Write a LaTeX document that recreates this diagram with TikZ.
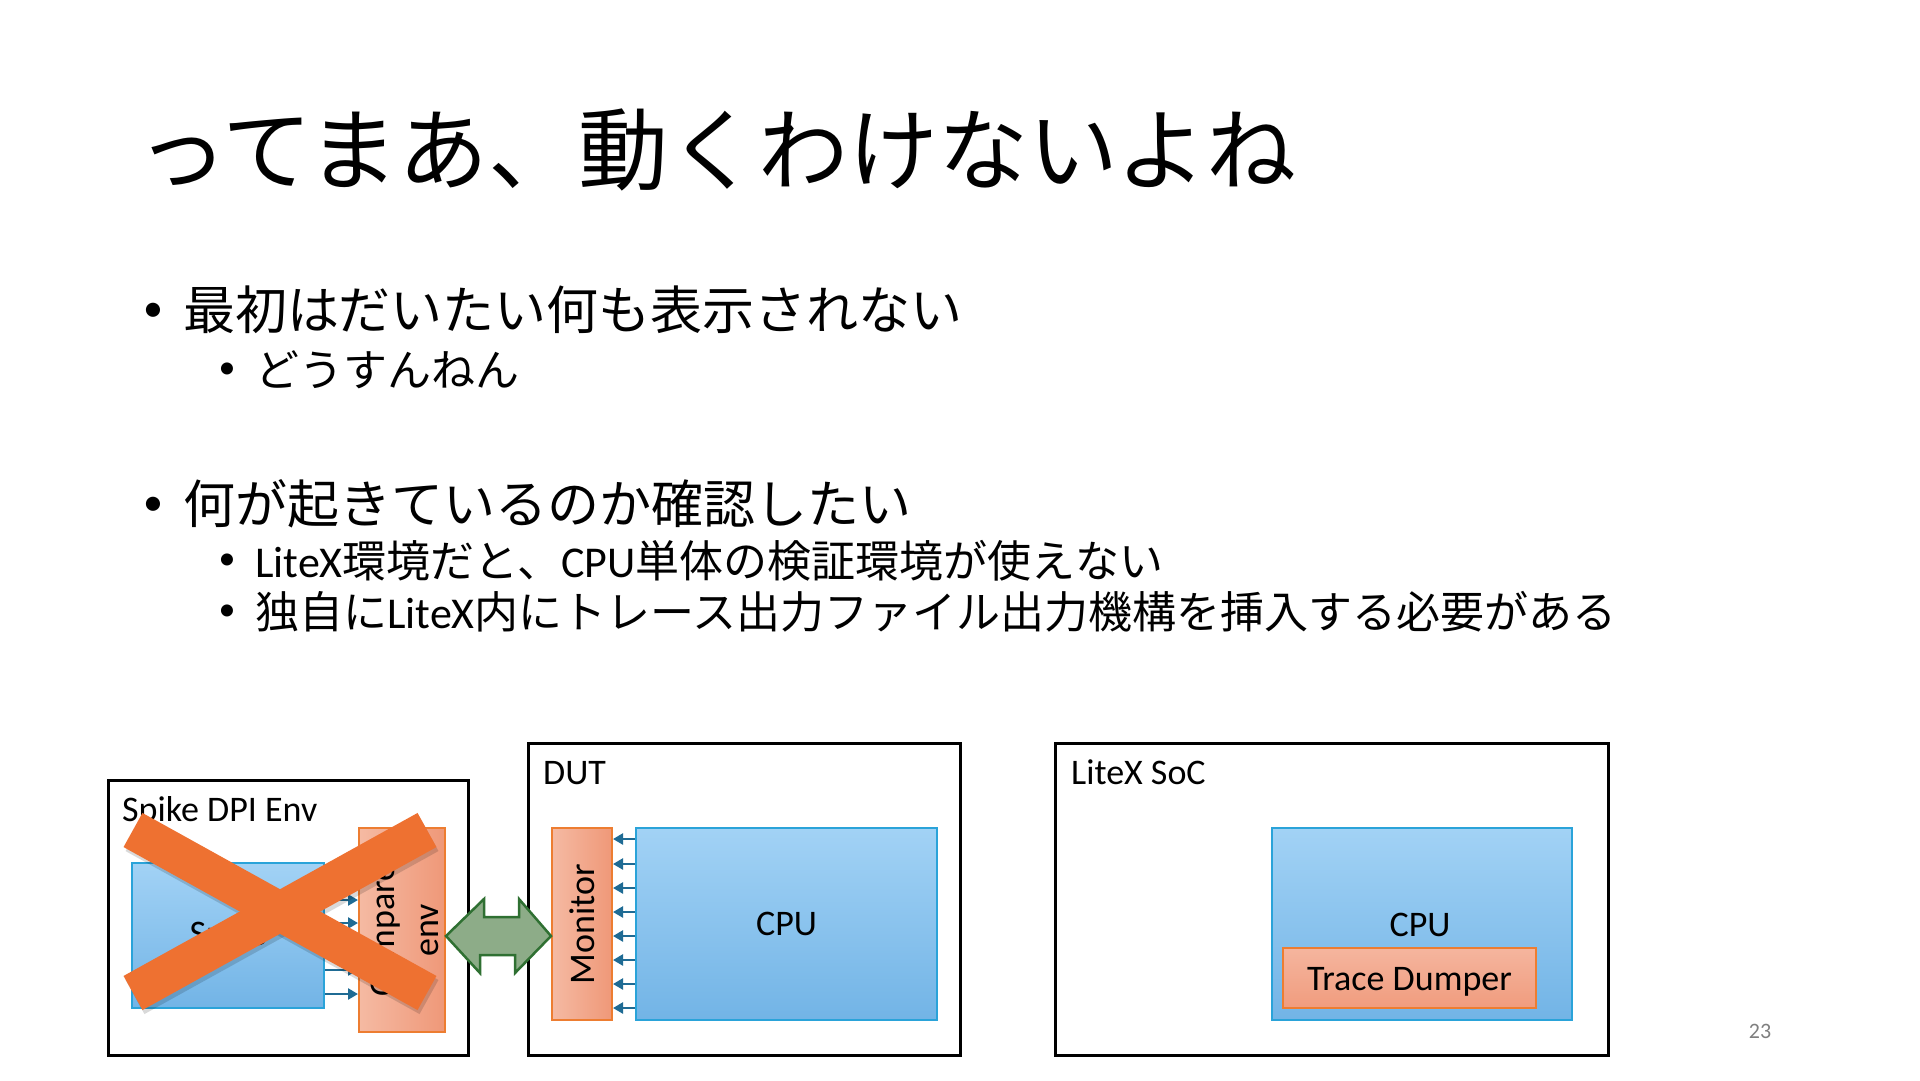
\documentclass[tikz,border=0pt]{standalone}
\usepackage{fontspec}
\setmainfont{Noto Sans CJK JP}
\newfontfamily\lat{Carlito}
\usetikzlibrary{arrows.meta,calc}
\definecolor{boxblue}{HTML}{2AA3D9}
\definecolor{blueT}{HTML}{A2D2F5}
\definecolor{blueB}{HTML}{72B4E6}
\definecolor{orline}{HTML}{ED7D31}
\definecolor{orL}{HTML}{F5BAA3}
\definecolor{orR}{HTML}{EF9878}
\definecolor{orT}{HTML}{F5B59E}
\definecolor{orB}{HTML}{F09C7E}
\definecolor{sigblue}{HTML}{1F6B94}
\definecolor{gfill}{HTML}{8DAC88}
\definecolor{gline}{HTML}{2F7032}
\definecolor{xorange}{HTML}{EE7131}
\definecolor{pagegray}{HTML}{7F7F7F}
\tikzset{
  outer/.style={draw=black, line width=3pt, fill=white, inner sep=0pt},
  bluebox/.style={draw=boxblue, line width=2pt, top color=blueT, bottom color=blueB, inner sep=0pt},
  orangeV/.style={draw=orline, line width=2pt, left color=orL, right color=orR, inner sep=0pt},
  orangeH/.style={draw=orline, line width=2pt, top color=orT, bottom color=orB, inner sep=0pt},
  lbl/.style={font=\lat\fontsize{36}{44}\selectfont, text=black, inner sep=0pt},
  sig/.style={draw=sigblue, line width=2.4pt, -{Triangle[length=10pt,width=11pt]}},
  garrow/.style={draw=gline, line width=2.5pt, fill=gfill, line join=miter},
  xbar/.style={draw=xorange, line width=39pt, line cap=butt},
  jp/.style={anchor=west, inner sep=0pt, text=black},
  big/.style={font=\fontsize{90}{104}\selectfont},
  mainb/.style={font=\fontsize{52}{60}\selectfont},
  subb/.style={font=\fontsize{44}{52}\selectfont},
  bul/.style={inner sep=0pt, text=black},
  mbul/.style={bul, font=\lat\fontsize{40}{48}\selectfont},
  sbul/.style={bul, font=\lat\fontsize{34}{40}\selectfont},
}
\begin{document}
\begin{tikzpicture}[x=1pt,y=-1pt]
\fill[white] (0,0) rectangle (1920,1080);
\useasboundingbox (0,0) rectangle (1920,1080);

% title
\node[jp,big] (title) at (137,150) {ってまあ、動くわけないよね};

% bullets
\node[mbul] (b1) at (153,312) {•};
\node[jp,mainb] (t1) at (183,310) {最初はだいたい何も表示されない};
\node[sbul] (b2) at (227,371) {•};
\node[jp,subb] (t2) at (255,370) {どうすんねん};
\node[mbul] (b3) at (153,506) {•};
\node[jp,mainb] (t3) at (183,504) {何が起きているのか確認したい};
\node[sbul] (b4) at (227,562) {•};
\node[jp,subb] (t4) at (255,561) {{\lat LiteX}環境だと、{\lat CPU}単体の検証環境が使えない};
\node[sbul] (b5) at (227,613) {•};
\node[jp,subb] (t5) at (255,612) {独自に{\lat LiteX}内にトレース出力ファイル出力機構を挿入する必要がある};

% Spike DPI Env
\node[outer, minimum width=360pt, minimum height=275pt] (spikeenv) at (288,917.5) {};
\node[lbl, anchor=base west] (spikelbl) at (122,821) {Spike DPI Env};
\node[bluebox, minimum width=192pt, minimum height=145pt] (spike) at (228,935.5) {};
\node[lbl] (spiketxt) at (spike) {Spike};
\node[orangeV, minimum width=86pt, minimum height=204pt] (cmp) at (402,930) {};
\node[lbl, rotate=90, align=center] (cmptxt) at (405,930) {Compare\\env};
\foreach \yy in {876,900,923,947,970,994}
  \draw[sig] (spike.east |- 0,\yy) -- (cmp.west |- 0,\yy);

% DUT
\node[outer, minimum width=432pt, minimum height=312pt] (dut) at (744,899) {};
\node[lbl, anchor=base west] (dutlbl) at (543,784) {DUT};
\node[orangeV, minimum width=60pt, minimum height=192pt] (mon) at (582,924) {};
\node[lbl, rotate=90] (montxt) at (mon) {Monitor};
\node[bluebox, minimum width=301pt, minimum height=192pt] (cpuA) at (786.5,924) {};
\node[lbl] (cpuAtxt) at (cpuA) {CPU};
\foreach \yy in {839,864,888,912,936,960,984,1008}
  \draw[sig] (cpuA.west |- 0,\yy) -- (mon.east |- 0,\yy);

% green double arrow
\coordinate (gL) at (cmp.east |- 0,936);
\coordinate (gR) at (mon.west |- 0,936);
\draw[garrow] (gL) -- ++(38,-37) -- ++(0,18) -- ++(35,0) -- ++(0,-18) -- (gR)
  -- ++(-36,37) -- ++(0,-18) -- ++(-35,0) -- ++(0,18) -- cycle;

% LiteX SoC
\node[outer, minimum width=553pt, minimum height=312pt] (litex) at (1331.5,899) {};
\node[lbl, anchor=base west] (litexlbl) at (1071,784) {LiteX SoC};
\node[bluebox, minimum width=300pt, minimum height=192pt] (cpuB) at (1422,924) {};
\node[lbl] (cpuBtxt) at (1420,925) {CPU};
\node[orangeH, minimum width=253pt, minimum height=60pt] (trace) at (1409.5,978) {};
\node[lbl] (tracetxt) at ([yshift=-4pt]trace.center) {Trace Dumper};

% orange X over the Spike env
\draw[xbar, draw=black, opacity=0.15] (135,834) -- (429,997);
\draw[xbar, draw=black, opacity=0.15] (135,997) -- (429,834);
\draw[xbar] (133,830) -- (427,993);
\draw[xbar] (133,993) -- (427,830);

% page number
\node[lbl, font=\lat\fontsize{22}{26}\selectfont, text=pagegray] (pnum) at (1760,1031) {23};
\end{tikzpicture}
\end{document}
